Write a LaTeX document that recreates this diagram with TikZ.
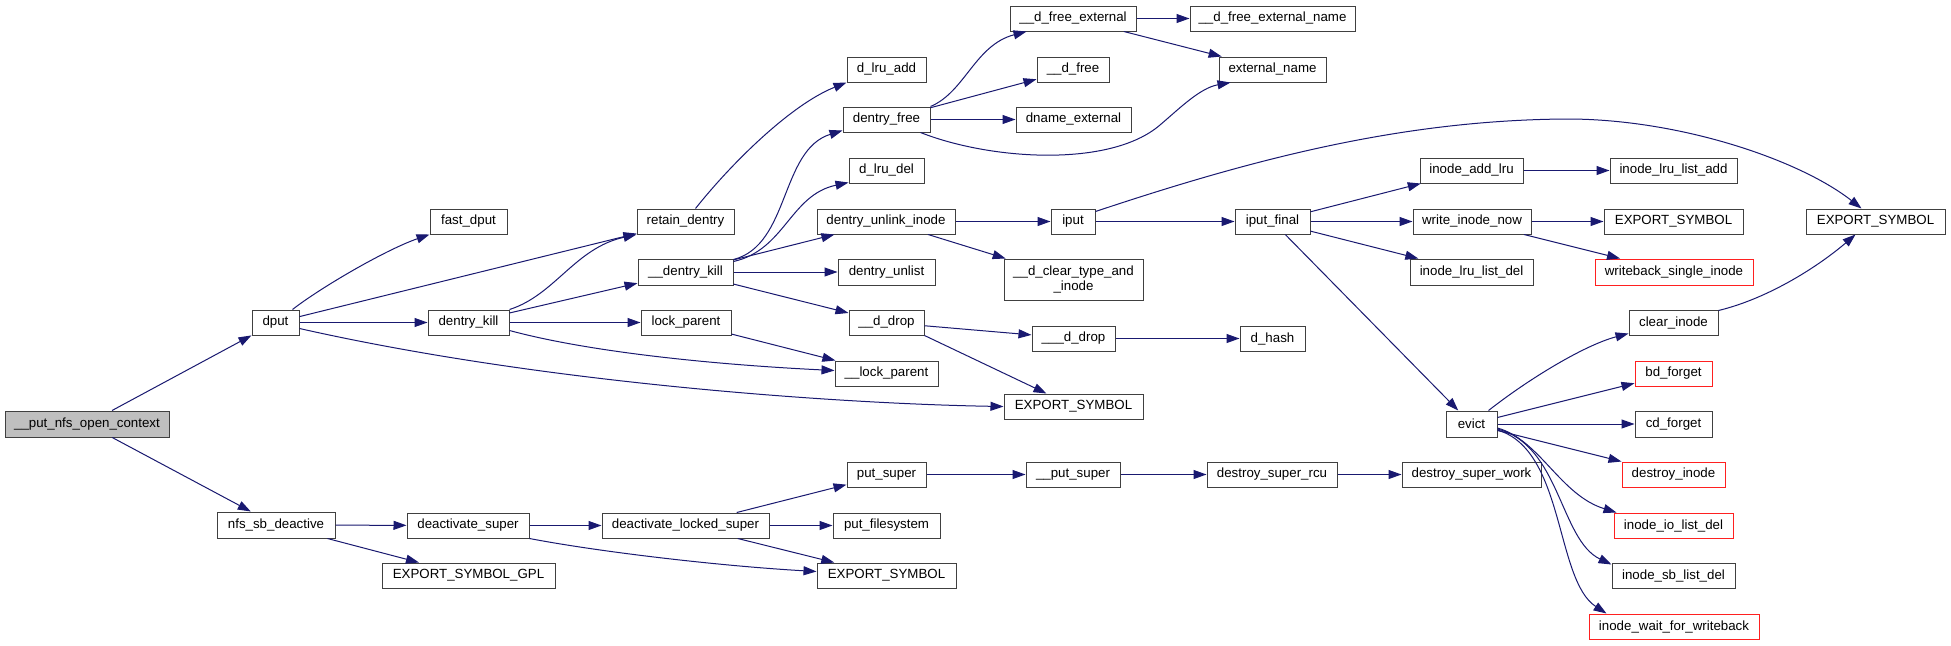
\documentclass[tikz,border=0pt]{standalone}
\usepackage{fontspec}
\setmainfont{Liberation Sans}
\usetikzlibrary{arrows.meta,calc}
\definecolor{edgec}{HTML}{191970}
\definecolor{boxc}{HTML}{404040}
\definecolor{rootfill}{HTML}{BFBFBF}
\definecolor{redc}{HTML}{FF2020}
\begin{document}
\begin{tikzpicture}[x=1pt,y=-1pt,
  box/.style={draw=boxc, line width=1pt, rectangle, minimum height=25pt, inner sep=0pt,
    fill=white, font=\fontsize{13.3}{15.5}\selectfont},
  redbox/.style={box, draw=redc},
  edge/.style={draw=edgec, line width=1pt, -{Triangle[length=13pt,width=9pt]}}]
\useasboundingbox[fill=white] (0,0) rectangle (1951,645);

% column 0-1
\node[box, fill=rootfill, minimum width=164, minimum height=26] (root) at (87,424) {\_\_put\_nfs\_open\_context};
\node[box, minimum width=47] (dput) at (275.5,322.5) {dput};
\node[box, minimum width=118, minimum height=26] (nfs) at (276,525) {nfs\_sb\_deactive};
% column 2
\node[box, minimum width=77] (fastdput) at (468.5,221.5) {fast\_dput};
\node[box, minimum width=81] (dkill) at (468.5,322.5) {dentry\_kill};
\node[box, minimum width=122] (deact) at (468,525.5) {deactivate\_super};
\node[box, minimum width=173] (esgpl) at (468.5,575.5) {EXPORT\_SYMBOL\_GPL};
% column 3
\node[box, minimum width=97] (retain) at (685.5,221.5) {retain\_dentry};
\node[box, minimum width=95, minimum height=26] (dkill2) at (685.5,272) {\_\_dentry\_kill};
\node[box, minimum width=90] (lockp) at (686,322.5) {lock\_parent};
\node[box, minimum width=167] (deactl) at (685.5,525.5) {deactivate\_locked\_super};
% column 4
\node[box, minimum width=79] (dlruadd) at (886.5,69.5) {d\_lru\_add};
\node[box, minimum width=87] (dfree) at (886.5,119.5) {dentry\_free};
\node[box, minimum width=75] (dlrudel) at (886.5,170.5) {d\_lru\_del};
\node[box, minimum width=138] (dunlink) at (886,221.5) {dentry\_unlink\_inode};
\node[box, minimum width=97, minimum height=26] (dunlist) at (886.5,272) {dentry\_unlist};
\node[box, minimum width=75] (ddrop) at (886.5,322.5) {\_\_d\_drop};
\node[box, minimum width=103] (lockp2) at (886.5,373.5) {\_\_lock\_parent};
\node[box, minimum width=79] (putsuper) at (886.5,474.5) {put\_super};
\node[box, minimum width=107] (putfs) at (886.5,525.5) {put\_filesystem};
\node[box, minimum width=139] (esb) at (886.5,575.5) {EXPORT\_SYMBOL};
% column 5
\node[box, minimum width=126] (dfreeext) at (1073,18.5) {\_\_d\_free\_external};
\node[box, minimum width=72] (dfree2) at (1073,69.5) {\_\_d\_free};
\node[box, minimum width=115] (dnameext) at (1073.5,119.5) {dname\_external};
\node[box, minimum width=44] (iput) at (1073,221.5) {iput};
\node[box, minimum width=139, minimum height=41, align=center] (dclear) at (1073.5,279.5) {\_\_d\_clear\_type\_and\\\_inode};
\node[box, minimum width=83] (dddrop) at (1073.5,338.5) {\_\_\_d\_drop};
\node[box, minimum width=139] (esm) at (1073.5,406.5) {EXPORT\_SYMBOL};
\node[box, minimum width=94] (putsuper2) at (1073,474.5) {\_\_put\_super};
% column 6
\node[box, minimum width=165] (dfreeextname) at (1272.5,18.5) {\_\_d\_free\_external\_name};
\node[box, minimum width=107] (extname) at (1272.5,69.5) {external\_name};
\node[box, minimum width=75] (iputfinal) at (1272.5,221.5) {iput\_final};
\node[box, minimum width=65] (dhash) at (1272.5,338.5) {d\_hash};
\node[box, minimum width=130] (dsrcu) at (1272,474.5) {destroy\_super\_rcu};
% column 7
\node[box, minimum width=103] (addlru) at (1471.5,170.5) {inode\_add\_lru};
\node[box, minimum width=118] (writenow) at (1472,221.5) {write\_inode\_now};
\node[box, minimum width=123, minimum height=26] (lrudel) at (1471.5,272) {inode\_lru\_list\_del};
\node[box, minimum width=51, minimum height=26] (evict) at (1471.5,424) {evict};
\node[box, minimum width=139] (dswork) at (1471.5,474.5) {destroy\_super\_work};
% column 8
\node[box, minimum width=127] (lrulistadd) at (1673.5,170.5) {inode\_lru\_list\_add};
\node[box, minimum width=139] (esmr) at (1673.5,221.5) {EXPORT\_SYMBOL};
\node[redbox, minimum width=158, minimum height=26] (wbsingle) at (1674,272) {writeback\_single\_inode};
\node[box, minimum width=89] (clearinode) at (1673.5,322.5) {clear\_inode};
\node[redbox, minimum width=77] (bdforget) at (1673.5,373.5) {bd\_forget};
\node[box, minimum width=77, minimum height=26] (cdforget) at (1673.5,424) {cd\_forget};
\node[redbox, minimum width=103] (destroyinode) at (1673.5,474.5) {destroy\_inode};
\node[redbox, minimum width=119] (iolistdel) at (1673.5,525.5) {inode\_io\_list\_del};
\node[box, minimum width=123] (sblistdel) at (1673.5,575.5) {inode\_sb\_list\_del};
\node[redbox, minimum width=170] (waitwb) at (1674,626.5) {inode\_wait\_for\_writeback};
% column 9
\node[box, minimum width=139] (esr) at (1875.5,221.5) {EXPORT\_SYMBOL};

% edges
\draw[edge] (root) -- (dput);
\draw[edge] (root) -- (nfs);
\draw[edge] ($(dput.north)+(17,0)$) .. controls (320,288) and (385,250) .. (fastdput.south west);
\draw[edge] (dput) -- (retain);
\draw[edge] (dput) -- (dkill);
\draw[edge] ($(dput.east)+(0,6)$) .. controls (550,385) and (850,404) .. (esm.west);
\draw[edge] (dkill.north east) .. controls (555,295) and (575,248) .. (retain.south west);
\draw[edge] (dkill) -- (dkill2);
\draw[edge] (dkill) -- (lockp);
\draw[edge] ($(dkill.east)+(0,8)$) .. controls (600,355) and (740,366) .. ($(lockp2.west)+(0,-3)$);
\draw[edge] (lockp) -- (lockp2);
\draw[edge] ($(retain.north)+(10,0)$) .. controls (730,165) and (790,105) .. (dlruadd.south west);
\draw[edge] ($(dkill2.north east)+(0,1)$) .. controls (790,245) and (780,150) .. ($(dfree.south west)+(0,-2)$);
\draw[edge] ($(dkill2.north east)+(0,3)$) .. controls (785,250) and (790,195) .. ($(dlrudel.south west)+(0,-1)$);
\draw[edge] (dkill2) -- (dunlink);
\draw[edge] (dkill2) -- (dunlist);
\draw[edge] (dkill2) -- (ddrop);
\draw[edge] (dfree.north east) .. controls (965,92) and (975,45) .. ($(dfreeext.south west)+(17,0)$);
\draw[edge] (dfree) -- (dfree2);
\draw[edge] (dfree) -- (dnameext);
\draw[edge] ($(dfree.south east)+(-10,0)$) .. controls (990,160) and (1110,168) .. (1160,125)
   .. controls (1180,108) and (1200,88) .. ($(extname.south west)+(12,0)$);
\draw[edge] (dfreeext) -- (dfreeextname);
\draw[edge] (dfreeext) -- (extname);
\draw[edge] (dunlink) -- (iput);
\draw[edge] (dunlink) -- (dclear);
\draw[edge] (iput) -- (iputfinal);
\draw[edge] ($(iput.north east)+(0,3)$) .. controls (1250,160) and (1400,120) .. (1567,119)
   .. controls (1680,119) and (1800,160) .. ($(esr.north)+(-14,0)$);
\draw[edge] (iputfinal) -- (addlru);
\draw[edge] (iputfinal) -- (writenow);
\draw[edge] (iputfinal) -- (lrudel);
\draw[edge] (iputfinal) -- (evict);
\draw[edge] (addlru) -- (lrulistadd);
\draw[edge] (writenow) -- (esmr);
\draw[edge] (writenow) -- (wbsingle);
\draw[edge] (ddrop) -- (dddrop);
\draw[edge] (ddrop.south east) -- ($(esm.north)+(-27,0)$);
\draw[edge] (dddrop) -- (dhash);
\draw[edge] ($(evict.north east)+(-9,0)$) .. controls (1530,378) and (1585,345) .. ($(clearinode.south west)+(0,-2)$);
\draw[edge] (evict) -- (bdforget);
\draw[edge] (evict) -- (cdforget);
\draw[edge] (evict) -- (destroyinode);
\draw[edge] ($(evict.east)+(0,4)$) .. controls (1540,440) and (1560,495) .. ($(iolistdel.north west)+(3,0)$);
\draw[edge] ($(evict.east)+(0,5)$) .. controls (1560,445) and (1560,540) .. ($(sblistdel.north west)+(0,2)$);
\draw[edge] ($(evict.east)+(0,6)$) .. controls (1565,450) and (1555,580) .. ($(waitwb.north west)+(18,0)$);
\draw[edge] ($(clearinode.north east)+(0,1)$) .. controls (1770,298) and (1820,265) .. ($(esr.south)+(-20,0)$);
\draw[edge] (nfs) -- (deact);
\draw[edge] (nfs) -- (esgpl);
\draw[edge] (deact) -- (deactl);
\draw[edge] (deact.south east) .. controls (600,552) and (720,566) .. ($(esb.west)+(0,-4)$);
\draw[edge] (deactl) -- (putsuper);
\draw[edge] (deactl) -- (putfs);
\draw[edge] (deactl) -- (esb);
\draw[edge] (putsuper) -- (putsuper2);
\draw[edge] (putsuper2) -- (dsrcu);
\draw[edge] (dsrcu) -- (dswork);
\end{tikzpicture}
\end{document}
